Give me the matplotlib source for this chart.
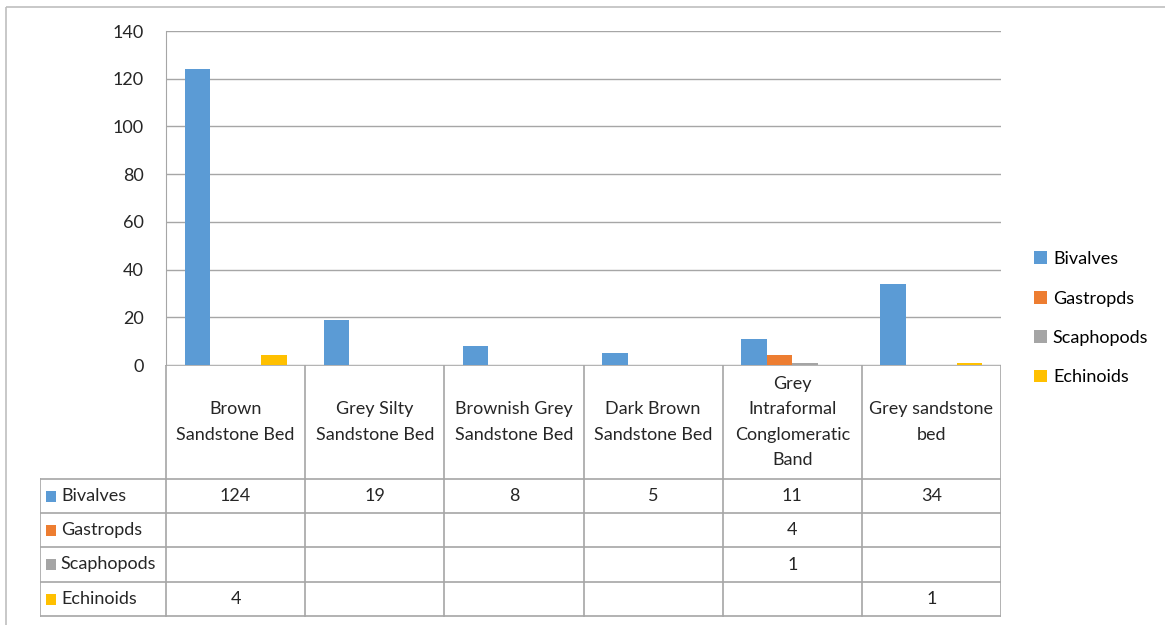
import numpy as np
import matplotlib
matplotlib.use('Agg')
import matplotlib.pyplot as plt
from matplotlib.patches import Rectangle

plt.rcParams['font.family'] = ['Lato', 'DejaVu Sans']

# data
categories = ['Brown\nSandstone Bed', 'Grey Silty\nSandstone Bed', 'Brownish Grey\nSandstone Bed',
              'Dark Brown\nSandstone Bed', 'Grey\nIntraformal\nConglomeratic\nBand', 'Grey sandstone\nbed']
series = ['Bivalves', 'Gastropds', 'Scaphopods', 'Echinoids']
bivalves = [124, 19, 8, 5, 11, 34]
gastropds = [None, None, None, None, 4, None]
scaphopods = [None, None, None, None, 1, None]
echinoids = [4, None, None, None, None, 1]
colors = ['#5B9BD5', '#ED7D31', '#A5A5A5', '#FFC000']
yticks = [0, 20, 40, 60, 80, 100, 120, 140]

values = [bivalves, gastropds, scaphopods, echinoids]

W, H = 1165, 625
fig = plt.figure(figsize=(W / 100, H / 100), dpi=100)

def px_rect(x0, y0, x1, y1):
    return [x0 / W, 1 - y1 / H, (x1 - x0) / W, (y1 - y0) / H]

grid_c = '#A6A6A6'
fs = 13

# outer chart border
border = fig.add_axes([0, 0, 1, 1])
border.set_xlim(0, W)
border.set_ylim(H, 0)
border.axis('off')
border.add_patch(Rectangle((6, 7), W + 20, H, fill=False, edgecolor='#BFBFBF', lw=1.2))

# main bar chart
ax = fig.add_axes(px_rect(166, 31, 1001, 365))
n = len(categories)
x = np.arange(n)
bw = 0.183
for i, (name, vals) in enumerate(zip(series, values)):
    h = [v if v is not None else 0 for v in vals]
    ax.bar(x + (i - 1.5) * bw, h, width=bw, color=colors[i], label=name, zorder=3)
ax.set_xlim(-0.5, n - 0.5)
ax.set_ylim(0, 140)
ax.set_yticks(yticks)
ax.set_xticks([])
ax.yaxis.grid(True, color=grid_c, lw=1)
ax.tick_params(axis='y', length=0, labelsize=fs, pad=16, colors='#262626')
for s in ['top', 'right', 'bottom']:
    ax.spines[s].set_visible(False)
ax.spines['left'].set_color(grid_c)

leg = ax.legend(loc='center left', bbox_to_anchor=(1.02, 0.14), frameon=False, fontsize=fs,
                handlelength=0.7, handleheight=0.7, handletextpad=0.35, labelspacing=1.3)

# data table
tb = fig.add_axes(px_rect(40, 365, 1001, 617))
left = -0.5 - (166 - 40) / (1001 - 166) * n
tb.set_xlim(left, n - 0.5)
rows_y = [365, 479, 513, 547, 582, 616]
tb.set_ylim(617, 365)
tb.axis('off')
# horizontal lines
tb.plot([-0.5, n - 0.5], [rows_y[0]] * 2, color=grid_c, lw=1.2)
for yy in rows_y[1:]:
    tb.plot([left, n - 0.5], [yy, yy], color=grid_c, lw=1.2)
# vertical lines
for k in range(n + 1):
    tb.plot([k - 0.5, k - 0.5], [rows_y[0], rows_y[-1]], color=grid_c, lw=1.2)
tb.plot([left, left], [rows_y[1], rows_y[-1]], color=grid_c, lw=1.2)

for j, c in enumerate(categories):
    tb.text(j, (rows_y[0] + rows_y[1]) / 2, c, ha='center', va='center', fontsize=fs,
            color='#262626', linespacing=1.7)

for i, (name, vals) in enumerate(zip(series, values)):
    yc = (rows_y[i + 1] + rows_y[i + 2]) / 2
    tb.add_patch(Rectangle((left + 0.045, yc - 5.5), 0.07, 11, color=colors[i], lw=0))
    tb.text(left + 0.15, yc, name, ha='left', va='center', fontsize=fs, color='#262626')
    for j, v in enumerate(vals):
        if v is not None:
            tb.text(j, yc, str(v), ha='center', va='center', fontsize=fs, color='#262626')

fig.savefig('out.png', dpi=100)
